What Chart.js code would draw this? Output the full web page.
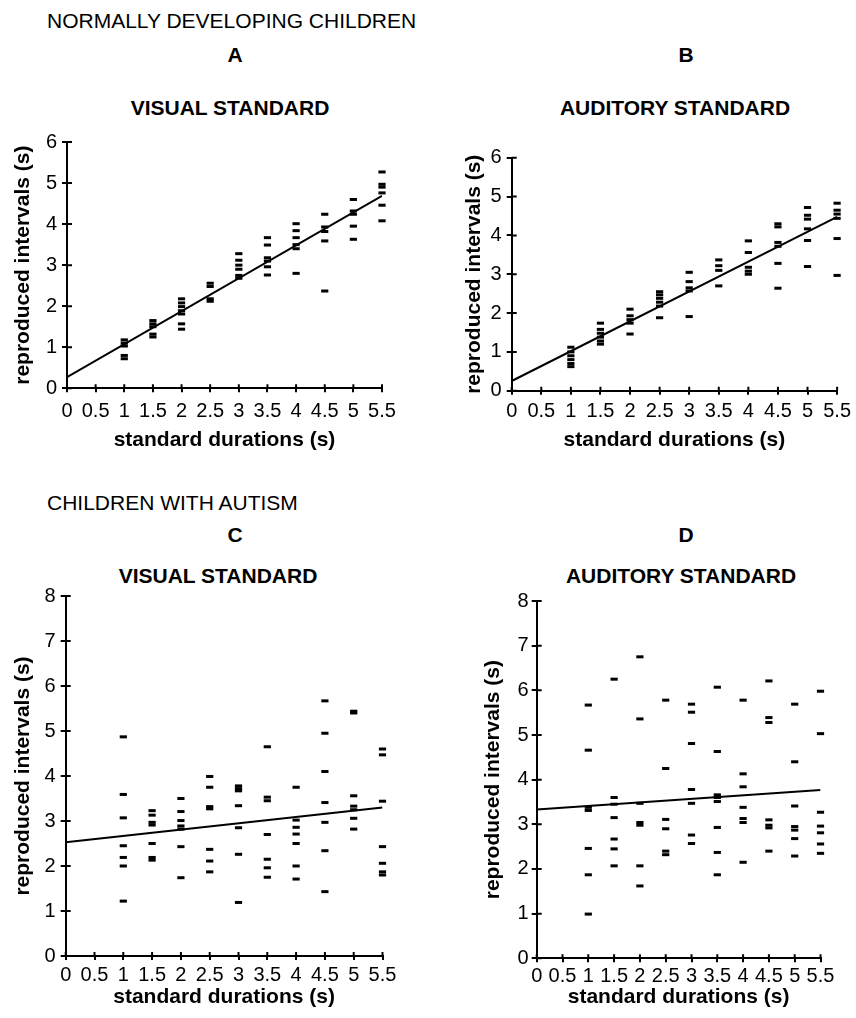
<!DOCTYPE html>
<html><head><meta charset="utf-8">
<script src="https://cdn.jsdelivr.net/npm/chart.js@4.4.0/dist/chart.umd.min.js"></script>
<style>
body{margin:0;background:#fff;width:856px;height:1018px;position:relative;overflow:hidden;font-family:"Liberation Sans",Arial,sans-serif;color:#000}
.t{position:absolute;white-space:nowrap;line-height:1;}
.h{font-size:21px;left:47px}
.c{font-size:21px;font-weight:bold;transform:translateX(-50%)}
canvas{position:absolute}
</style></head><body>
<div class="t h" style="top:10px">NORMALLY DEVELOPING CHILDREN</div>
<div class="t c" style="left:235px;top:44px">A</div>
<div class="t c" style="left:686px;top:44px">B</div>
<div class="t c" style="left:230px;top:97px">VISUAL STANDARD</div>
<div class="t c" style="left:675px;top:97px">AUDITORY STANDARD</div>
<div class="t h" style="top:492px">CHILDREN WITH AUTISM</div>
<div class="t c" style="left:235px;top:524px">C</div>
<div class="t c" style="left:686px;top:524px">D</div>
<div class="t c" style="left:218px;top:565px">VISUAL STANDARD</div>
<div class="t c" style="left:681px;top:565px">AUDITORY STANDARD</div>
<canvas id="cA" width="428" height="335" style="left:0;top:125px"></canvas>
<canvas id="cB" width="426" height="335" style="left:430px;top:125px"></canvas>
<canvas id="cC" width="428" height="443" style="left:0;top:575px"></canvas>
<canvas id="cD" width="426" height="443" style="left:430px;top:575px"></canvas>
<script>
// ---- data ----
const durations = [1, 1.5, 2, 2.5, 3, 3.5, 4, 4.5, 5, 5.5];
const xTickValues = [0, 0.5, 1, 1.5, 2, 2.5, 3, 3.5, 4, 4.5, 5, 5.5];
const xTickLabels = ['0','0.5','1','1.5','2','2.5','3','3.5','4','4.5','5','5.5'];
const yTicksTD = [0, 1, 2, 3, 4, 5, 6];
const yTicksAut = [0, 1, 2, 3, 4, 5, 6, 7, 8];
const fitX = [0, 5.5];

// A: normally developing, visual standard
const tdVisual = [
  [1.18, 1.1, 1.03, 0.8, 0.72],
  [1.65, 1.57, 1.5, 1.32, 1.25],
  [2.18, 2.08, 1.99, 1.89, 1.81, 1.57, 1.44],
  [2.56, 2.48, 2.18, 2.12],
  [3.28, 3.12, 3.0, 2.9, 2.75, 2.68],
  [3.67, 3.49, 3.18, 3.1, 2.96, 2.76],
  [4.01, 3.84, 3.67, 3.5, 3.4, 2.8],
  [4.24, 3.93, 3.82, 3.59, 2.37],
  [4.6, 4.32, 4.24, 3.95, 3.63],
  [5.27, 4.97, 4.9, 4.76, 4.46, 4.08]
];
const tdVisualFit = [0.27, 4.69];

// B: normally developing, auditory standard
const tdAuditory = [
  [1.12, 1.0, 0.9, 0.8, 0.7, 0.62],
  [1.74, 1.58, 1.48, 1.38, 1.28, 1.2],
  [2.1, 1.93, 1.83, 1.74, 1.46],
  [2.55, 2.47, 2.38, 2.28, 2.18, 1.88],
  [3.05, 2.81, 2.65, 2.57, 1.91],
  [3.37, 3.22, 3.1, 2.7],
  [3.86, 3.56, 3.18, 3.08, 3.0],
  [4.3, 4.22, 3.82, 3.72, 3.28, 2.64],
  [4.72, 4.52, 4.42, 4.17, 3.87, 3.2],
  [4.83, 4.65, 4.55, 4.44, 3.92, 2.97]
];
const tdAuditoryFit = [0.25, 4.48];

// C: children with autism, visual standard
const autVisual = [
  [4.87, 3.59, 3.07, 2.45, 2.19, 2.0, 1.22],
  [3.23, 3.13, 2.97, 2.91, 2.5, 2.19, 2.13],
  [3.5, 3.21, 3.01, 2.89, 2.82, 2.43, 1.74],
  [3.99, 3.75, 3.32, 3.27, 2.37, 2.11, 1.87],
  [3.78, 3.72, 3.67, 3.34, 2.85, 2.26, 1.19],
  [4.65, 3.53, 3.45, 2.7, 2.15, 1.96, 1.75],
  [3.75, 3.02, 2.86, 2.71, 2.5, 2.0, 1.71],
  [5.67, 4.95, 4.1, 3.41, 2.97, 2.34, 1.43],
  [5.44, 5.4, 3.56, 3.33, 3.25, 3.06, 2.82],
  [4.6, 4.47, 3.44, 2.43, 2.06, 1.87, 1.8]
];
const autVisualFit = [2.53, 3.3];

// D: children with autism, auditory standard
const autAuditory = [
  [5.67, 4.66, 3.38, 3.31, 2.46, 1.87, 0.99],
  [6.25, 3.6, 3.45, 3.15, 2.67, 2.45, 2.07],
  [6.75, 5.36, 3.47, 3.04, 2.98, 2.07, 1.62],
  [5.78, 4.25, 3.11, 2.9, 2.4, 2.32],
  [5.69, 5.51, 4.81, 3.78, 3.47, 2.76, 2.57],
  [6.07, 4.63, 3.66, 3.6, 3.51, 2.93, 2.37, 1.87],
  [5.78, 4.13, 3.84, 3.38, 3.13, 3.04, 2.15],
  [6.21, 5.39, 5.28, 3.1, 2.98, 2.92, 2.4],
  [5.69, 4.4, 3.41, 2.95, 2.87, 2.68, 2.29],
  [5.98, 5.03, 3.27, 2.96, 2.81, 2.56, 2.35]
];
const autAuditoryFit = [3.33, 3.77];

// ---- drawing ----
const FONT = '"Liberation Sans", Arial, sans-serif';
const innerTicks = {
  id: 'innerTicks',
  afterDraw(chart) {
    const {ctx, chartArea: a, scales: {x, y}} = chart;
    ctx.save();
    ctx.strokeStyle = '#000';
    ctx.lineWidth = 2;
    ctx.beginPath();
    x.ticks.forEach(t => { const p = x.getPixelForValue(t.value); ctx.moveTo(p, a.bottom); ctx.lineTo(p, a.bottom - 4); });
    y.ticks.forEach(t => { const p = y.getPixelForValue(t.value); ctx.moveTo(a.left, p); ctx.lineTo(a.left + 5, p); });
    ctx.stroke();
    ctx.restore();
  }
};

function makeChart(id, values, fit, yTicks, g) {
  const pts = durations.flatMap((d, i) => values[i].map(v => ({x: d, y: v})));
  const line = fitX.map((xv, i) => ({x: xv, y: fit[i]}));
  new Chart(document.getElementById(id), {
    type: 'scatter',
    data: {
      datasets: [
        {data: pts, clip: false, pointStyle: 'line', pointRadius: 3.6, pointHoverRadius: 3.6,
         pointBorderWidth: 3, borderColor: '#000', backgroundColor: '#000', pointBorderColor: '#000'},
        {data: line, showLine: true, pointRadius: 0, borderColor: '#000', borderWidth: 2, fill: false}
      ]
    },
    options: {
      responsive: false, animation: false, devicePixelRatio: 1,
      layout: {padding: {top: g.padTop, right: g.padRight, left: 0, bottom: 0}},
      plugins: {legend: {display: false}, tooltip: {enabled: false}},
      scales: {
        x: {
          type: 'linear', min: 0, max: 5.5,
          afterFit: s => { s.height = g.xH; },
          afterBuildTicks: s => { s.ticks = xTickValues.map(v => ({value: v})); },
          ticks: {autoSkip: false, maxRotation: 0, minRotation: 0, padding: g.xTickPad, color: '#000',
                  font: {family: FONT, size: 20},
                  callback: v => xTickLabels[xTickValues.indexOf(v)]},
          grid: {drawOnChartArea: false, drawTicks: true, tickLength: 4, tickColor: '#000', tickWidth: 2, color: '#000', lineWidth: 2},
          border: {display: true, color: '#000', width: 2},
          title: {display: true, text: 'standard durations (s)', color: '#000',
                  font: {family: FONT, size: 21, weight: 'bold'}, padding: {top: 0, bottom: g.xTitlePad}}
        },
        y: {
          type: 'linear', min: 0, max: yTicks[yTicks.length - 1],
          afterFit: s => { s.width = g.yW; },
          afterBuildTicks: s => { s.ticks = yTicks.map(v => ({value: v})); },
          ticks: {autoSkip: false, padding: g.yTickPad, color: '#000', font: {family: FONT, size: 20},
                  callback: v => String(v)},
          grid: {drawOnChartArea: false, drawTicks: true, tickLength: 5, tickColor: '#000', tickWidth: 2, color: '#000', lineWidth: 2},
          border: {display: true, color: '#000', width: 2},
          title: {display: true, text: 'reproduced intervals (s)', color: '#000',
                  font: {family: FONT, size: 21, weight: 'bold'}, padding: {top: g.yTitlePad, bottom: 0}}
        }
      }
    },
    plugins: [innerTicks]
  });
}

makeChart('cA', tdVisual, tdVisualFit, yTicksTD,
  {padTop: 16.6, padRight: 46, yW: 67, xH: 71.7, yTitlePad: 10.4, xTitlePad: 7.4, xTickPad: 7, yTickPad: 5});
makeChart('cB', tdAuditory, tdAuditoryFit, yTicksTD,
  {padTop: 32.8, padRight: 18, yW: 81.7, xH: 69.3, yTitlePad: 31.4, xTitlePad: 7.4, xTickPad: 5, yTickPad: 5});
makeChart('cC', autVisual, autVisualFit, yTicksAut,
  {padTop: 21, padRight: 45.5, yW: 65.7, xH: 62, yTitlePad: 10.4, xTitlePad: 8.4, xTickPad: 3, yTickPad: 5});
makeChart('cD', autAuditory, autAuditoryFit, yTicksAut,
  {padTop: 26, padRight: 35.5, yW: 106.7, xH: 59.7, yTitlePad: 50.4, xTitlePad: 8.4, xTickPad: 2, yTickPad: 3});
</script>
</body></html>
